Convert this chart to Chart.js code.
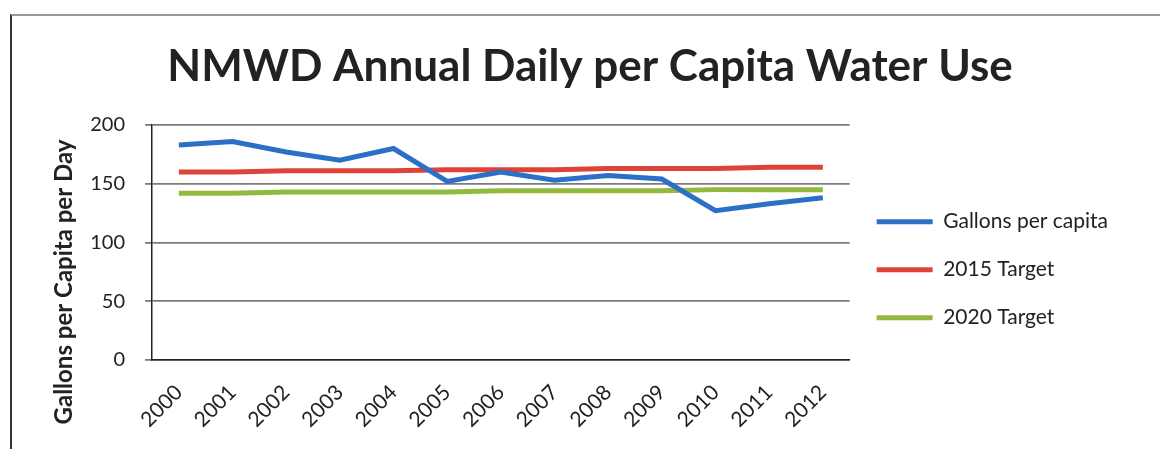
<!DOCTYPE html>
<html>
<head>
<meta charset="utf-8">
<script src="https://cdn.jsdelivr.net/npm/chart.js@4"></script>
<style>
  body { margin: 0; background: #fff; }
  #wrap { position: relative; width: 1160px; height: 449px; }
  #frame { position: absolute; left: 10px; top: 14px; right: 0; bottom: 0;
           border-left: 2px solid #333; border-top: 2px solid #999; }
  canvas { position: absolute; left: 0; top: 0; }
</style>
</head>
<body>
<div id="wrap">
  <div id="frame"></div>
  <canvas id="water-use-canvas" width="1160" height="449"></canvas>
</div>
<script>
// NMWD per capita water use
const years = ['2000', '2001', '2002', '2003', '2004', '2005', '2006', '2007', '2008', '2009', '2010', '2011', '2012'];
const gallonsPerCapita = [183, 186, 177, 170, 180, 152, 160, 153, 157, 154, 127, 133, 138];
const target2015 = [160, 160, 161, 161, 161, 162, 162, 162, 163, 163, 163, 164, 164];
const target2020 = [142, 142, 143, 143, 143, 143, 144, 144, 144, 144, 145, 145, 145];
const yTicks = [0, 50, 100, 150, 200];

const chartTitle = 'NMWD Annual Daily per Capita Water Use';
const yTitle = 'Gallons per Capita per Day';

const font = 'Lato, "Open Sans", sans-serif';

// titles are drawn by hand: the legend needs all the side room,
// and in the original neither title is centred on the plot
const titlesPlugin = {
  id: 'titles',
  afterDraw(chart) {
    const ctx = chart.ctx;
    ctx.save();
    ctx.fillStyle = '#222';
    ctx.textAlign = 'center';
    ctx.textBaseline = 'middle';

    ctx.font = 'bold 44px ' + font;
    ctx.fillText(chartTitle, 590, 67);

    ctx.translate(64, 282);
    ctx.rotate(-Math.PI / 2);
    ctx.font = 'bold 24px ' + font;
    ctx.fillText(yTitle, 0, 0);
    ctx.restore();
  }
};

function generateWaterChart() {
  const ctx = document.getElementById('water-use-canvas').getContext('2d');

  const waterChart = new Chart(ctx, {
    type: 'line',
    data: {
      labels: years,
      datasets: [
        {
          label: 'Gallons per capita',
          data: gallonsPerCapita,
          borderColor: '#2b6fc6',
          backgroundColor: '#2b6fc6',
          borderWidth: 5,
          pointRadius: 0,
          tension: 0,
        },
        {
          label: '2015 Target',
          data: target2015,
          borderColor: '#de4338',
          backgroundColor: '#de4338',
          borderWidth: 5,
          pointRadius: 0,
          tension: 0,
        },
        {
          label: '2020 Target',
          data: target2020,
          borderColor: '#92ba3e',
          backgroundColor: '#92ba3e',
          borderWidth: 5,
          pointRadius: 0,
          tension: 0,
        },
      ],
    },
    options: {
      responsive: false,
      animation: false,
      layout: {
        padding: { left: 0, right: 42, top: 125, bottom: 0 },
      },
      scales: {
        x: {
          offset: true,
          grid: {
            display: false,
          },
          border: {
            color: '#222',
            width: 1.5,
          },
          ticks: {
            minRotation: 45,
            maxRotation: 45,
            padding: 12,
            color: '#222',
            font: { family: font, size: 21 },
          },
          afterFit(scale) {
            scale.height = 89;
          },
        },
        y: {
          min: 0,
          max: 200,
          afterBuildTicks(scale) {
            scale.ticks = yTicks.map(v => ({ value: v }));
          },
          grid: {
            color: '#7c7c7c',
            lineWidth: 1.8,
            tickLength: 7,
          },
          border: {
            color: '#222',
            width: 1.5,
          },
          ticks: {
            padding: 20,
            color: '#222',
            font: { family: font, size: 20 },
          },
          afterFit(scale) {
            scale.width = 152;
          },
        },
      },
      plugins: {
        title: {
          display: false,
        },
        legend: {
          position: 'right',
          align: 'start',
          // blank title only pushes the legend rows down
          title: {
            display: true,
            text: ' ',
            font: { size: 1 },
            padding: { top: 58, bottom: 0 },
          },
          labels: {
            usePointStyle: true,
            pointStyle: 'line',
            pointStyleWidth: 56,
            padding: 27,
            color: '#222',
            font: { family: font, size: 21 },
          },
        },
        tooltip: { enabled: false },
      },
    },
    plugins: [titlesPlugin],
  });
}

generateWaterChart();
</script>
</body>
</html>
